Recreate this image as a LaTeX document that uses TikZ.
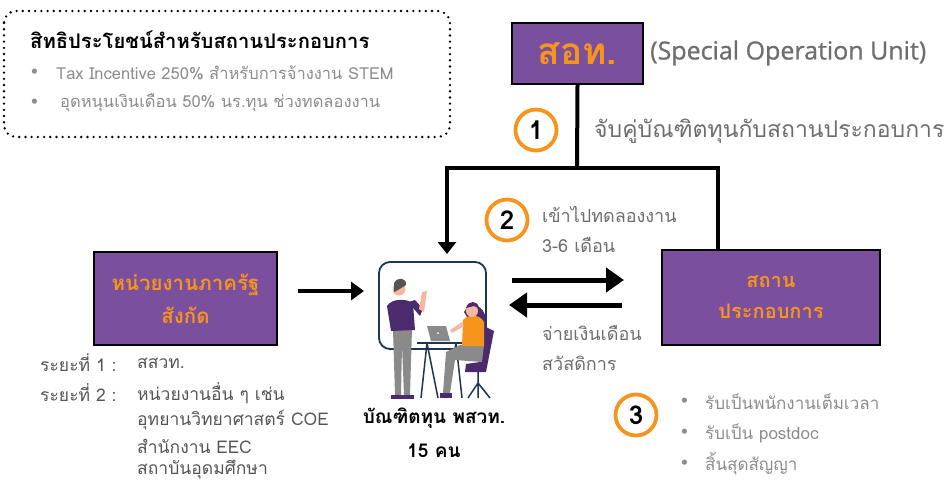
\documentclass[tikz,border=0pt]{standalone}
\usepackage{fontspec}
\setmainfont[Script=Thai]{Loma}
\newfontfamily\latinsans[FakeBold=0.9]{Open Sans}
\usetikzlibrary{arrows.meta}
\definecolor{boxpurple}{HTML}{7A4F9E}
\definecolor{accent}{HTML}{F7941D}
\definecolor{softgray}{HTML}{8C8C8C}
\definecolor{midgray}{HTML}{6E6E6E}
\definecolor{darkgray}{HTML}{555555}
\definecolor{navy}{HTML}{1F3550}
\definecolor{skin}{HTML}{F4B8A0}
\definecolor{pants}{HTML}{8A8A8A}
\definecolor{shirt}{HTML}{4B2A6E}
\tikzset{
  unitbox/.style={draw=black, line width=2pt, fill=boxpurple, text=accent,
    font=\bfseries, align=center, inner sep=0pt},
  stepring/.style={circle, draw=accent, line width=3.8pt, minimum size=41pt,
    inner sep=0pt, font=\fontsize{26}{28}\selectfont\bfseries},
  flowline/.style={line width=4pt},
  bigarrow/.style={line width=5pt, -{Triangle[length=18pt,width=24pt]}},
  downarrow/.style={line width=4pt, -{Triangle[length=12pt,width=18pt]}},
  note/.style={text=softgray, anchor=west, font=\fontsize{16}{18}\selectfont, inner sep=0pt},
  listtext/.style={text=darkgray, anchor=west, font=\fontsize{17.5}{19}\selectfont, inner sep=0pt},
}
\begin{document}
\begin{tikzpicture}[x=1pt,y=-1pt]
\useasboundingbox (0,0) rectangle (952,483);

% benefits panel
\draw[line width=2.6pt, line cap=round, dash pattern=on 0pt off 6.2pt, rounded corners=12pt] (4,11) rectangle (450,137);
\node[anchor=west, inner sep=0pt, font=\fontsize{20.2}{23}\selectfont\bfseries] (bentitle) at (30,40) {สิทธิประโยชน์สำหรับสถานประกอบการ};
\node[note, font=\fontsize{15}{17}\selectfont] (b1dot) at (31,73) {•};
\node[note, font=\fontsize{16.5}{18}\selectfont] (b1) at (56,73) {Tax Incentive 250\% สำหรับการจ้างงาน STEM};
\node[note, font=\fontsize{15}{17}\selectfont] (b2dot) at (31,103) {•};
\node[note, font=\fontsize{16.5}{18}\selectfont] (b2) at (60,103) {อุดหนุนเงินเดือน 50\% นร.ทุน ช่วงทดลองงาน};

% special operation unit
\node[unitbox, minimum width=131pt, minimum height=61pt, font=\fontsize{37}{40}\selectfont\bfseries] (sot) at (577.5,53.5) {สอท.};
\node[anchor=west, inner sep=0pt, text=midgray, font=\latinsans\fontsize{25}{27}\selectfont] (sotname) at (650,53) {(Special Operation Unit)};

% matching branch
\coordinate (j) at (577,168);
\coordinate (jl) at (447,168);
\coordinate (jr) at (718,168);
\coordinate (gradtop) at (447,254);
\draw[flowline] (sot.south) -- (j);
\draw[flowline, line cap=rect] (jl) -- (jr);
\draw[downarrow] (jl) -- (gradtop);

\node[stepring] (s1) at (536,130) {1};
\node[note, text=midgray, font=\fontsize{23}{25}\selectfont] (s1t) at (594,131) {จับคู่บัณฑิตทุนกับสถานประกอบการ};

% workplace
\node[unitbox, minimum width=218pt, minimum height=95pt, font=\fontsize{20}{31}\selectfont\bfseries] (firm) at (771,297.5) {สถาน\\ประกอบการ};
\draw[flowline] (jr) -- (jr |- firm.north);

% trial period exchange
\node[stepring] (s2) at (507,220) {2};
\node[note, text=midgray, font=\fontsize{18}{20}\selectfont] (s2a) at (542,214) {เข้าไปทดลองงาน};
\node[note, text=midgray, font=\fontsize{18}{20}\selectfont] (s2b) at (542,245) {3-6 เดือน};
\coordinate (toA) at (512,280);
\coordinate (toB) at (624,280);
\coordinate (backA) at (622,305);
\coordinate (backB) at (509,305);
\draw[bigarrow] (toA) -- (toB);
\draw[bigarrow] (backA) -- (backB);
\node[note, text=midgray, font=\fontsize{18}{20}\selectfont] (paya) at (542,333) {จ่ายเงินเดือน};
\node[note, text=midgray, font=\fontsize{18}{20}\selectfont] (payb) at (542,363) {สวัสดิการ};

% government agency
\node[unitbox, minimum width=183pt, minimum height=93pt, font=\fontsize{20.5}{33}\selectfont\bfseries] (gov) at (185.5,298.5) {หน่วยงานภาครัฐ\\สังกัด};
\coordinate (govout) at (298,291);
\coordinate (gradleft) at (364,291);
\draw[line width=4pt, -{Triangle[length=13pt,width=18pt]}] (govout) -- (gradleft);

\node[listtext] (p1) at (40,363) {ระยะที่ 1 :};
\node[listtext] (p1v) at (137,363) {สสวท.};
\node[listtext] (p2) at (40,393) {ระยะที่ 2 :};
\node[listtext] (p2a) at (137,393) {หน่วยงานอื่น ๆ เช่น};
\node[listtext] (p2b) at (137,420) {อุทยานวิทยาศาสตร์ COE};
\node[listtext] (p2c) at (137,446) {สำนักงาน EEC};
\node[listtext] (p2d) at (137,470) {สถาบันอุดมศึกษา};

% scholars at work
\draw[navy, line width=1.8pt, rounded corners=11pt] (379,262) rectangle (486,349);
% man standing
\fill[pants] (393,329) -- (412,329) -- (410,395) -- (404,395) -- (402,345) -- (401,395) -- (395,395) -- cycle;
\fill[shirt] (387,306) .. controls (392,298) and (408,298) .. (413,304) -- (415,330) -- (391,331) -- cycle;
\fill[shirt] (408,302) -- (420,316) -- (423,309) -- (415,300) -- cycle;
\fill[skin] (419,309) -- (422,292) -- (427,291) -- (424,312) -- cycle;
\fill[skin] (399,289) circle (6.5pt);
\fill[darkgray] (394,283) .. controls (398,276) and (407,278) .. (406,285) -- (398,290) -- (394,292) -- cycle;
\fill[shirt] (391,395) rectangle (404,399);
\fill[shirt] (401,395) rectangle (414,399);
% table and laptop
\draw[navy, line width=2pt] (417,343) -- (466,343);
\draw[navy, line width=1.5pt] (427,343) -- (421,398) (427,343) -- (438,398) (456,343) -- (446,398) (456,343) -- (462,398);
\fill[pants] (427,326) -- (446,326) -- (450,341) -- (431,341) -- cycle;
\fill[white] (438,333) circle (1pt);
% woman seated
\fill[shirt] (486,327) -- (494,331) -- (486,372) -- (465,372) -- (466,364) -- (480,362) -- cycle;
\draw[navy, line width=1.5pt] (478,372) -- (478,398) (478,383) -- (468,398) (478,383) -- (490,398);
\fill[pants] (460,345) -- (484,345) -- (482,362) -- (455,360) -- (450,393) -- (443,393) -- (446,352) -- cycle;
\fill[shirt] (464,312) .. controls (470,300) and (485,305) .. (486,320) -- (488,340) -- (480,338) -- cycle;
\fill[accent] (463,320) .. controls (468,314) and (480,314) .. (484,322) -- (484,346) -- (462,346) -- cycle;
\fill[skin] (464,326) -- (452,333) -- (450,330) -- (462,322) -- cycle;
\fill[skin] (472,311) circle (6pt);
\fill[shirt] (466,308) .. controls (468,300) and (478,300) .. (479,308) -- (474,306) -- cycle;
\fill[shirt] (440,393) rectangle (452,398);

\node[anchor=north, inner sep=0pt, align=center, font=\fontsize{19}{34}\selectfont\bfseries] (grad) at (434,408) {บัณฑิตทุน พสวท.\\15 คน};

% outcomes
\node[stepring] (s3) at (636,415) {3};
\node[note, font=\fontsize{15}{17}\selectfont] (o1d) at (681,402) {•};
\node[note, font=\fontsize{17}{19}\selectfont] (o1) at (705,402) {รับเป็นพนักงานเต็มเวลา};
\node[note, font=\fontsize{15}{17}\selectfont] (o2d) at (681,433) {•};
\node[note, font=\fontsize{17}{19}\selectfont] (o2) at (705,433) {รับเป็น postdoc};
\node[note, font=\fontsize{15}{17}\selectfont] (o3d) at (681,464) {•};
\node[note, font=\fontsize{17}{19}\selectfont] (o3) at (705,464) {สิ้นสุดสัญญา};
\end{tikzpicture}
\end{document}
